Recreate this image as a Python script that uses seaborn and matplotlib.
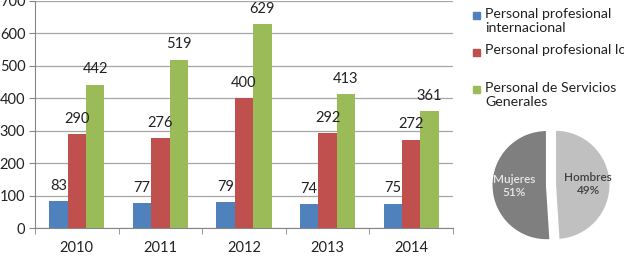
import pandas as pd
import matplotlib
matplotlib.use("Agg")
import matplotlib.pyplot as plt
from matplotlib.patches import Rectangle
import seaborn as sns

# Datos
anios = ["2010", "2011", "2012", "2013", "2014"]
series = ["Personal profesional internacional",
          "Personal profesional local",
          "Personal de Servicios Generales"]
# texto de la leyenda tal como aparece (con saltos de linea)
leyenda = ["Personal profesional\ninternacional",
           "Personal profesional local",
           "Personal de Servicios\nGenerales"]
internacional = [83, 77, 79, 74, 75]
local = [290, 276, 400, 292, 272]
servicios = [442, 519, 629, 413, 361]
colores = ["#4F81BD", "#C0504D", "#9BBB59"]

sexo = ["Mujeres", "Hombres"]
porcentaje = [51, 49]
colores_pie = ["#7F7F7F", "#C0C0C0"]

df = pd.DataFrame({
    "anio": anios * 3,
    "serie": [series[0]] * 5 + [series[1]] * 5 + [series[2]] * 5,
    "valor": internacional + local + servicios,
})

sns.set_style("white")
plt.rcParams["font.family"] = ["Lato", "DejaVu Sans"]

fig = plt.figure(figsize=(6.24, 2.56), dpi=100)
ax = fig.add_axes([35 / 624, 28 / 256, 418 / 624, 227 / 256])

sns.barplot(data=df, x="anio", y="valor", hue="serie", palette=colores,
            width=0.66, saturation=1, linewidth=0, ax=ax, legend=False)

for cont in ax.containers:
    ax.bar_label(cont, padding=6, fontsize=10.5, color="#222222")

ax.set_ylim(0, 700)
ax.set_yticks(range(0, 701, 100))
ax.yaxis.grid(True, color="#A6A6A6", linewidth=0.9)
ax.set_axisbelow(True)
ax.set_xlabel("")
ax.set_ylabel("")
for s in ["top", "right"]:
    ax.spines[s].set_visible(False)
ax.spines["left"].set_color("#868686")
ax.spines["bottom"].set_color("#868686")
ax.tick_params(axis="y", left=True, length=4, color="#868686", labelsize=10.5,
               pad=3, labelcolor="#222222")
ax.tick_params(axis="x", bottom=False, labelsize=10.5, pad=6, labelcolor="#222222")
# marcas entre categorias
ax.set_xticks([i - 0.5 for i in range(6)], minor=True)
ax.tick_params(axis="x", which="minor", bottom=True, length=4, color="#868686")

# Leyenda
y_ley = [241, 204, 167]
for c, t, y in zip(colores, leyenda, y_ley):
    fig.patches.append(Rectangle((473 / 624, (y - 3.5) / 256), 7 / 624, 7 / 256,
                                 transform=fig.transFigure, color=c))
    fig.text(485 / 624, (y + 7.5) / 256, t, fontsize=10.2, va="top", ha="left",
             color="#222222", linespacing=1.3)

# Pastel
ax2 = fig.add_axes([488 / 624, 8 / 256, 126 / 624, 126 / 256])
etiquetas = [f"{s}\n{p}%" for s, p in zip(sexo, porcentaje)]
wedges, textos = ax2.pie(porcentaje, colors=colores_pie, startangle=90,
                         explode=[0.08, 0.08], labels=etiquetas,
                         labeldistance=0.6,
                         textprops={"fontsize": 8.5, "ha": "center",
                                    "fontweight": "semibold"})
textos[0].set_color("#E8E8E8")
textos[1].set_color("#404040")
ax2.set_aspect("equal")
ax2.set_xlim(-1.15, 1.15)
ax2.set_ylim(-1.15, 1.15)

fig.savefig("out.png", dpi=100)
